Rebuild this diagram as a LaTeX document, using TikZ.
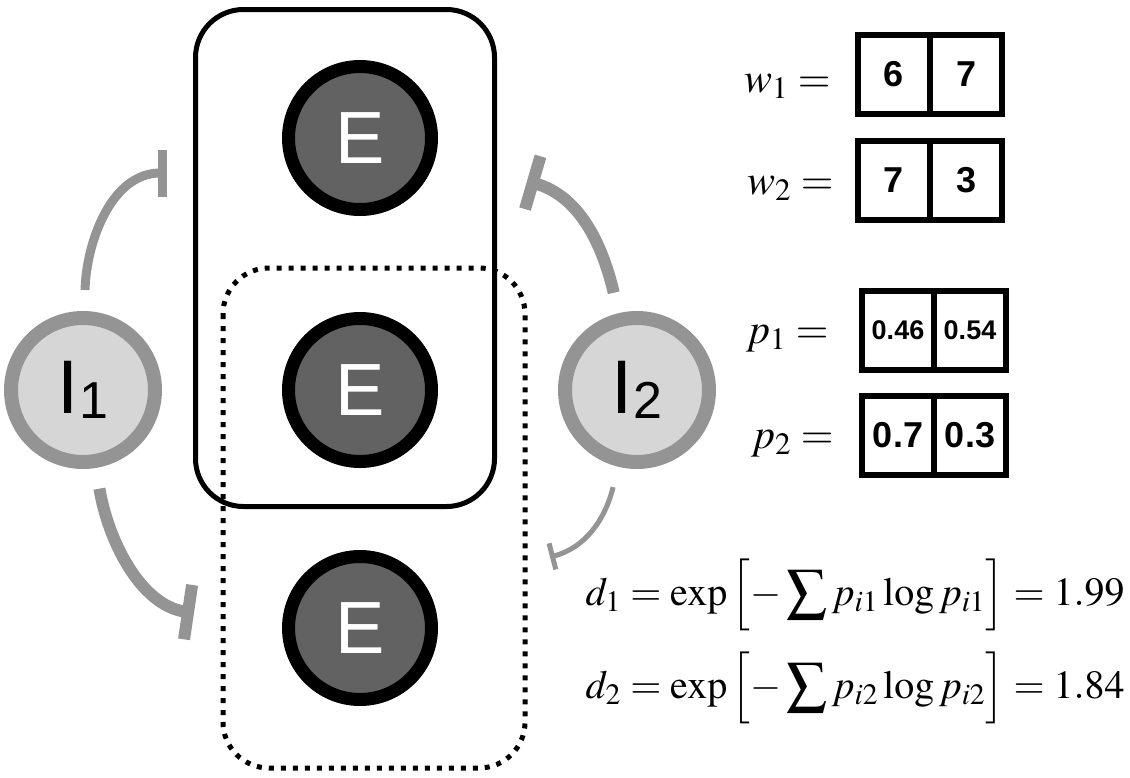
\documentclass[tikz,border=0pt]{standalone}
\usepackage{mathptmx}
\usepackage[no-math]{fontspec}
\newfontfamily\helv{Liberation Sans}
\usetikzlibrary{positioning, arrows.meta}
\definecolor{egray}{RGB}{98,98,98}
\definecolor{ifill}{RGB}{214,214,214}
\definecolor{iring}{RGB}{148,148,148}
\newcommand{\isub}[1]{I\raisebox{-2.5pt}{\fontsize{26}{26}\selectfont #1}}
\newcommand{\brk}{\vrule height 22.5pt depth 14pt width 0pt}

\begin{document}
\begin{tikzpicture}[x=0.5pt, y=-0.5pt,
		exc/.style={circle, draw=black, line width=6.5pt, fill=egray, minimum size=71.5pt, inner sep=0pt, text=white, font=\helv\fontsize{37}{37}\selectfont},
		inh/.style={circle, draw=iring, line width=7pt, fill=ifill, minimum size=72pt, inner sep=0pt, font=\helv\fontsize{38}{38}\selectfont},
		cell/.style={draw, line width=3pt, outer sep=0pt, minimum width=36pt, minimum height=39.5pt, inner sep=0pt, font=\helv\bfseries\fontsize{18}{18}\selectfont},
		small/.style={font=\helv\bfseries\fontsize{13.5}{13.5}\selectfont},
		lbl/.style={anchor=base east, inner sep=0pt, font=\fontsize{21}{21}\selectfont},
		eq/.style={anchor=base east, inner sep=0pt, font=\fontsize{20}{20}\selectfont},
		syn/.style={draw=iring, shorten <=10.5pt}]
		\useasboundingbox (0,0) rectangle (1130,777);

		% groups
		\draw[line width=2.5pt, rounded corners=24pt] (195.5,9.5) rectangle (494.5,506.5);
		\draw[line width=2.5pt, dash pattern=on 2.5pt off 3.5pt, rounded corners=23pt] (223,268) rectangle (525,768);

		\node [exc] (E1) at (360,138) {E};
		\node [exc, below=48pt of E1] (E2) {E};
		\node [exc, below=41pt of E2] (E3) {E};
		\node [inh, left =60pt of E2] (I1) {\isub{1}};
		\node [inh, right=60pt of E2] (I2) {\isub{2}};

		\coordinate (t1) at (167,173);
		\coordinate (t2) at (194,613);
		\coordinate (t3) at (527,181);
		\coordinate (t4) at (550,557);

		\draw[syn, line width=4.5pt, -{Bar[width=23.5pt]}] (I1) .. controls (86,245) and (110,173) .. (t1);
		\draw[syn, line width=6pt, -{Bar[width=27.5pt]}] (I1) .. controls (108,540) and (140,605) .. (t2);
		\draw[syn, line width=6pt, -{Bar[width=27.5pt]}] (I2) .. controls (600,235) and (575,195) .. (t3);
		\draw[syn, line width=2.5pt, -{Bar[width=13.5pt]}] (I2) .. controls (605,520) and (585,548) .. (t4);

		% weights
		\node [cell] (w11) at (894,74.5) {6};
		\node [cell, right=0pt of w11] (w12) {7};
		\node [cell] (w21) at (894,180.5) {7};
		\node [cell, right=0pt of w21] (w22) {3};
		\node [lbl] (lw1) at (831,92) {$w_1 =$};
		\node [lbl] (lw2) at (834,194) {$w_2 =$};

		% proportions
		\node [cell, small] (p11) at (898,330) {0.46};
		\node [cell, small, right=0pt of p11] (p12) {0.54};
		\node [cell] (p21) at (898,435.5) {0.7};
		\node [cell, right=0pt of p21] (p22) {0.3};
		\node [lbl] (lp1) at (829,343) {$p_1 =$};
		\node [lbl] (lp2) at (834,448) {$p_2 =$};

		\node [eq] (d1) at (1125,605) {$d_1 = \exp\left[\brk-\displaystyle\sum p_{i1}\log p_{i1}\right] = 1.99$};
		\node [eq] (d2) at (1125,698) {$d_2 = \exp\left[\brk-\displaystyle\sum p_{i2}\log p_{i2}\right] = 1.84$};
	\end{tikzpicture}
\end{document}
